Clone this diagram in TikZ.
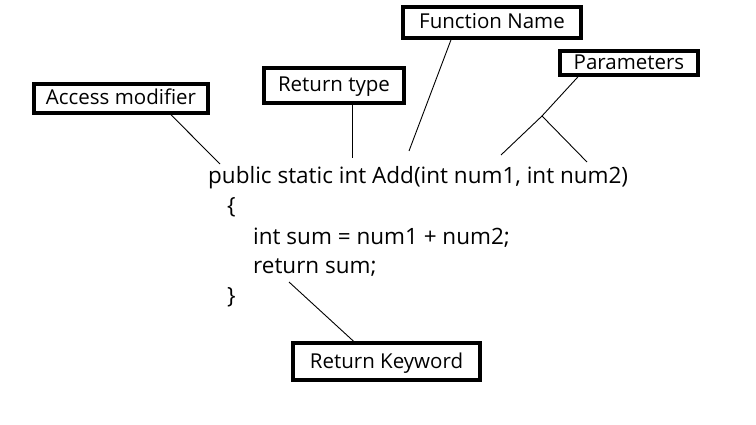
\documentclass[tikz,border=0pt]{standalone}
\usepackage{fontspec}
\setmainfont{Open Sans}
\usepackage{tikz}

\tikzset{
  label box/.style={draw, line width=3.6pt, fill=white, inner sep=0pt,
    text height=16pt, text depth=3pt, font=\fontsize{20.5}{24}\selectfont},
  code/.style={anchor=base west, inner sep=0pt, font=\fontsize{22.5}{27}\selectfont},
  pointer/.style={line width=0.9pt}
}

\begin{document}
\begin{tikzpicture}[x=1pt, y=-1pt]
    \useasboundingbox (0,0) rectangle (756,425);

    % Code lines
    \node[code] (sig) at (208,184) {public static int Add(int num1, int num2)};
    \node[code] (open) at (227,214) {\{};
    \node[code] (body) at (253,244) {int sum = num1 + num2;};
    \node[code] (ret) at (253,273) {return sum;};
    \node[code] (close) at (227,303) {\}};

    % Label boxes
    \node[label box, minimum width=174pt, minimum height=29pt] (am) at (121,98.5) {Access modifier};
    \node[label box, minimum width=140pt, minimum height=35pt] (rt) at (334,85.5) {Return type};
    \node[label box, minimum width=178pt, minimum height=31pt] (fn) at (492,22.5) {Function Name};
    \node[label box, minimum width=138pt, minimum height=24pt] (pa) at (629,63) {Parameters};
    \node[label box, minimum width=187pt, minimum height=37pt] (rk) at (386.5,361.5) {Return Keyword};

    % Ends of the pointers on the code
    \coordinate (amTip) at (220,164);
    \coordinate (rtTip) at (352,158);
    \coordinate (fnTip) at (409,151);
    \coordinate (pj) at (542,116);
    \coordinate (p1) at (501,155);
    \coordinate (p2) at (587,162);
    \coordinate (rkTip) at (289,282);

    % Pointers
    \draw[pointer] ([xshift=50pt]am.south) -- (amTip);
    \draw[pointer] ([xshift=18pt]rt.south) -- (rtTip);
    \draw[pointer] ([xshift=-41pt]fn.south) -- (fnTip);
    \draw[pointer] ([xshift=-51pt]pa.south) -- (pj);
    \draw[pointer] (pj) -- (p1);
    \draw[pointer] (pj) -- (p2);
    \draw[pointer] (rkTip) -- ([xshift=-33pt]rk.north);
\end{tikzpicture}
\end{document}
